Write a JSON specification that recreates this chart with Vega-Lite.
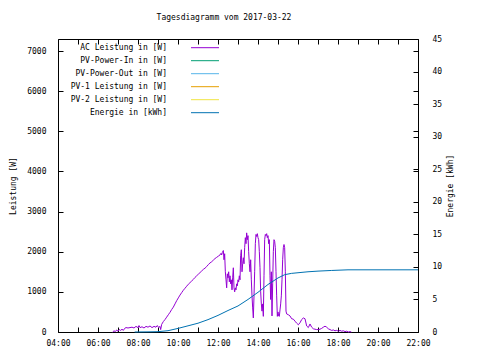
{
  "$schema": "https://vega.github.io/schema/vega-lite/v6.json",
  "width": 360,
  "height": 293,
  "autosize": "none",
  "padding": {"left": 58, "top": 39, "right": 62, "bottom": 28},
  "background": "white",
  "title": {"text": "Tagesdiagramm vom 2017-03-22", "font": "DejaVu Sans Mono", "fontSize": 8, "fontWeight": "normal", "color": "black", "anchor": "middle", "frame": "group", "offset": 13, "dx": -14},
  "config": {
    "view": {"stroke": "black", "strokeWidth": 1},
    "font": "DejaVu Sans Mono",
    "axis": {"labelFont": "DejaVu Sans Mono", "labelFontSize": 8, "labelColor": "black", "titleFont": "DejaVu Sans Mono", "titleFontSize": 8, "titleFontWeight": "normal", "titleColor": "black", "tickColor": "black", "domain": false, "grid": false, "tickSize": -5}
  },
  "datasets": {
    "ac": [
      {"h":6.733,"p":0},{"h":6.8,"p":30},{"h":6.867,"p":10},{"h":6.933,"p":50},{"h":7,"p":20},{"h":7.067,"p":60},{"h":7.133,"p":40},{"h":7.2,"p":70},
      {"h":7.267,"p":40},{"h":7.333,"p":90},{"h":7.4,"p":110},{"h":7.5,"p":100},{"h":7.6,"p":110},{"h":7.7,"p":120},{"h":7.8,"p":100},{"h":7.9,"p":140},
      {"h":8,"p":110},{"h":8.05,"p":160},{"h":8.1,"p":110},{"h":8.2,"p":130},{"h":8.3,"p":100},{"h":8.4,"p":140},{"h":8.5,"p":120},{"h":8.6,"p":150},
      {"h":8.7,"p":110},{"h":8.8,"p":140},{"h":8.9,"p":120},{"h":8.967,"p":160},{"h":9.033,"p":110},{"h":9.1,"p":140},{"h":9.133,"p":60},{"h":9.183,"p":190},
      {"h":9.267,"p":260},{"h":9.35,"p":310},{"h":9.433,"p":370},{"h":9.517,"p":430},{"h":9.6,"p":490},{"h":9.683,"p":560},{"h":9.767,"p":620},{"h":9.85,"p":700},
      {"h":9.933,"p":780},{"h":10.017,"p":850},{"h":10.1,"p":920},{"h":10.183,"p":980},{"h":10.267,"p":1040},{"h":10.35,"p":1090},{"h":10.433,"p":1140},{"h":10.517,"p":1190},
      {"h":10.6,"p":1230},{"h":10.683,"p":1270},{"h":10.767,"p":1310},{"h":10.85,"p":1360},{"h":10.933,"p":1400},{"h":11.017,"p":1440},{"h":11.1,"p":1480},{"h":11.183,"p":1520},
      {"h":11.267,"p":1560},{"h":11.35,"p":1590},{"h":11.433,"p":1630},{"h":11.517,"p":1680},{"h":11.6,"p":1720},{"h":11.683,"p":1750},{"h":11.767,"p":1790},{"h":11.85,"p":1830},
      {"h":11.933,"p":1860},{"h":12.017,"p":1890},{"h":12.1,"p":1920},{"h":12.15,"p":1960},{"h":12.183,"p":1920},{"h":12.217,"p":1980},{"h":12.267,"p":2030},{"h":12.3,"p":1800},
      {"h":12.333,"p":1950},{"h":12.367,"p":1500},{"h":12.4,"p":1300},{"h":12.433,"p":1100},{"h":12.467,"p":1450},{"h":12.5,"p":1350},{"h":12.533,"p":1500},{"h":12.567,"p":1250},
      {"h":12.6,"p":1400},{"h":12.633,"p":1200},{"h":12.667,"p":1300},{"h":12.7,"p":1050},{"h":12.733,"p":1350},{"h":12.767,"p":1600},{"h":12.8,"p":1100},{"h":12.833,"p":1000},
      {"h":12.867,"p":1100},{"h":12.9,"p":1050},{"h":12.933,"p":1200},{"h":12.967,"p":1150},{"h":13,"p":1300},{"h":13.033,"p":1250},{"h":13.067,"p":1400},{"h":13.1,"p":1300},
      {"h":13.133,"p":1900},{"h":13.167,"p":2050},{"h":13.2,"p":1500},{"h":13.233,"p":1700},{"h":13.267,"p":1850},{"h":13.3,"p":1700},{"h":13.333,"p":2100},{"h":13.367,"p":2350},
      {"h":13.4,"p":2200},{"h":13.433,"p":2470},{"h":13.467,"p":2300},{"h":13.5,"p":2400},{"h":13.533,"p":2000},{"h":13.567,"p":1700},{"h":13.6,"p":1500},{"h":13.633,"p":1800},
      {"h":13.667,"p":1300},{"h":13.7,"p":900},{"h":13.733,"p":600},{"h":13.767,"p":350},{"h":13.8,"p":900},{"h":13.833,"p":1500},{"h":13.867,"p":2200},{"h":13.9,"p":2430},
      {"h":13.933,"p":2380},{"h":13.967,"p":2450},{"h":14,"p":2350},{"h":14.033,"p":2300},{"h":14.067,"p":2000},{"h":14.1,"p":1600},{"h":14.133,"p":1000},{"h":14.167,"p":700},
      {"h":14.2,"p":520},{"h":14.233,"p":700},{"h":14.267,"p":390},{"h":14.3,"p":1400},{"h":14.333,"p":2300},{"h":14.367,"p":2430},{"h":14.4,"p":2400},{"h":14.433,"p":2450},
      {"h":14.467,"p":2350},{"h":14.5,"p":2400},{"h":14.533,"p":2200},{"h":14.567,"p":2300},{"h":14.6,"p":1400},{"h":14.633,"p":810},{"h":14.667,"p":1500},{"h":14.7,"p":400},
      {"h":14.733,"p":1200},{"h":14.767,"p":2000},{"h":14.8,"p":2300},{"h":14.833,"p":2260},{"h":14.867,"p":2100},{"h":14.9,"p":1500},{"h":14.933,"p":900},{"h":14.967,"p":390},
      {"h":15,"p":500},{"h":15.033,"p":400},{"h":15.067,"p":390},{"h":15.1,"p":550},{"h":15.133,"p":700},{"h":15.167,"p":900},{"h":15.2,"p":1300},{"h":15.233,"p":1800},
      {"h":15.267,"p":2100},{"h":15.3,"p":2180},{"h":15.333,"p":2100},{"h":15.367,"p":1500},{"h":15.4,"p":520},{"h":15.433,"p":450},{"h":15.517,"p":430},{"h":15.6,"p":400},
      {"h":15.683,"p":330},{"h":15.767,"p":320},{"h":15.85,"p":270},{"h":15.933,"p":220},{"h":16.017,"p":180},{"h":16.1,"p":230},{"h":16.183,"p":310},{"h":16.267,"p":350},
      {"h":16.35,"p":330},{"h":16.433,"p":150},{"h":16.517,"p":110},{"h":16.6,"p":200},{"h":16.683,"p":120},{"h":16.767,"p":80},{"h":16.85,"p":70},{"h":16.933,"p":60},
      {"h":17.017,"p":60},{"h":17.1,"p":70},{"h":17.183,"p":90},{"h":17.267,"p":120},{"h":17.35,"p":145},{"h":17.433,"p":120},{"h":17.517,"p":80},{"h":17.6,"p":60},
      {"h":17.683,"p":40},{"h":17.767,"p":50},{"h":17.85,"p":30},{"h":17.933,"p":40},{"h":18.017,"p":20},{"h":18.1,"p":40},{"h":18.183,"p":20},{"h":18.267,"p":30},
      {"h":18.35,"p":10},{"h":18.433,"p":20},{"h":18.517,"p":0},{"h":18.6,"p":10},{"h":18.667,"p":0}
    ],
    "en": [
      {"h":7.833,"e":0},{"h":8.5,"e":0.02},{"h":9,"e":0.05},{"h":9.5,"e":0.2},{"h":10,"e":0.55},{"h":10.5,"e":0.95},{"h":11,"e":1.35},{"h":11.5,"e":1.9},
      {"h":12,"e":2.55},{"h":12.5,"e":3.3},{"h":13,"e":4.0},{"h":13.5,"e":5.0},{"h":14,"e":6.1},{"h":14.5,"e":7.3},{"h":15,"e":8.3},{"h":15.333,"e":8.8},
      {"h":15.667,"e":9.0},{"h":16,"e":9.1},{"h":16.5,"e":9.25},{"h":17,"e":9.35},{"h":17.667,"e":9.45},{"h":18.5,"e":9.55},{"h":22,"e":9.55}
    ]
  },
  "layer": [
    {
      "data": {"name": "ac"},
      "mark": {"type": "line", "strokeWidth": 1},
      "encoding": {
        "x": {"field": "h", "type": "quantitative",
          "scale": {"domain": [4, 22], "nice": false, "zero": false},
          "axis": {"orient": "bottom", "title": null, "values": [4,5,6,7,8,9,10,11,12,13,14,15,16,17,18,19,20,21,22], "labelExpr": "datum.value % 2 == 0 ? (datum.value < 10 ? '0' : '') + datum.value + ':00' : ''", "labelOverlap": false, "labelFlush": false, "labelPadding": 12}},
        "y": {"field": "p", "type": "quantitative",
          "scale": {"domain": [0, 7300], "nice": false},
          "axis": {"orient": "left", "title": "Leistung [W]", "values": [0, 1000, 2000, 3000, 4000, 5000, 6000, 7000], "format": "d", "labelPadding": 17, "titlePadding": 9}},
        "color": {"datum": "AC Leistung in [W]", "type": "nominal",
          "scale": {"domain": ["AC Leistung in [W]", "PV-Power-In in [W]", "PV-Power-Out in [W]", "PV-1 Leistung in [W]", "PV-2 Leistung in [W]", "Energie in [kWh]"], "range": ["#9400d3", "#009e73", "#56b4e9", "#e69f00", "#f0e442", "#0072b2"]},
          "legend": {"title": null, "orient": "none", "legendX": 143, "legendY": 4.7, "symbolType": "M-5,0H5", "symbolSize": 31.36, "symbolStrokeWidth": 1, "labelAlign": "right", "labelOffset": -42, "labelFont": "DejaVu Sans Mono", "labelFontSize": 8, "labelColor": "black", "labelLimit": 300, "rowPadding": 5, "padding": 0,
            "encode": {"symbols": {"update": {"stroke": {"scale": "color", "field": "value"}, "strokeWidth": {"value": 1}, "opacity": {"value": 1}, "strokeOpacity": {"value": 1}, "fill": {"value": "transparent"}}}}}}
      }
    },
    {
      "data": {"name": "en"},
      "mark": {"type": "line", "strokeWidth": 1},
      "encoding": {
        "x": {"field": "h", "type": "quantitative", "axis": null},
        "y": {"field": "e", "type": "quantitative",
          "scale": {"domain": [0, 45], "nice": false},
          "axis": {"orient": "right", "title": "Energie [kWh]", "titleAngle": -90, "values": [0, 5, 10, 15, 20, 25, 30, 35, 40, 45], "labelPadding": 19, "titlePadding": 13}},
        "color": {"datum": "Energie in [kWh]", "type": "nominal",
          "scale": {"domain": ["AC Leistung in [W]", "PV-Power-In in [W]", "PV-Power-Out in [W]", "PV-1 Leistung in [W]", "PV-2 Leistung in [W]", "Energie in [kWh]"], "range": ["#9400d3", "#009e73", "#56b4e9", "#e69f00", "#f0e442", "#0072b2"]}}
      }
    },
    {
      "data": {"name": "ac"},
      "mark": {"type": "line", "opacity": 0},
      "encoding": {
        "x": {"field": "h", "type": "quantitative",
          "axis": {"orient": "top", "title": null, "labels": false, "values": [4,5,6,7,8,9,10,11,12,13,14,15,16,17,18,19,20,21,22]}},
        "y": {"field": "p", "type": "quantitative",
          "scale": {"domain": [0, 7300], "nice": false},
          "axis": {"orient": "right", "title": null, "labels": false, "values": [0, 1000, 2000, 3000, 4000, 5000, 6000, 7000]}}
      }
    }
  ],
  "resolve": {"scale": {"y": "independent"}, "axis": {"x": "independent"}}
}
